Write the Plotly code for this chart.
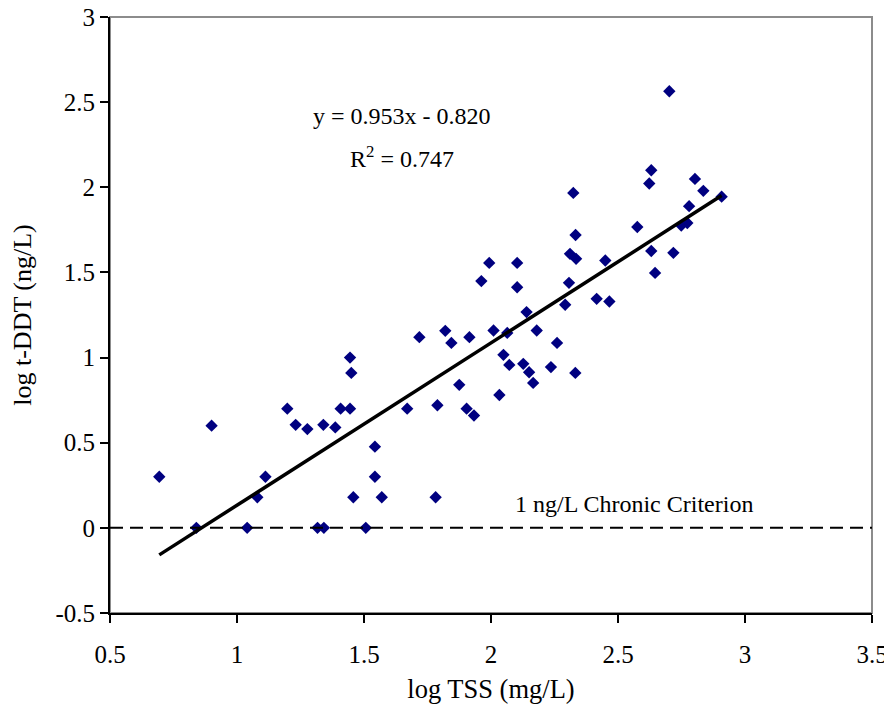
import plotly.graph_objects as go

# Observed data (log TSS mg/L, log t-DDT ng/L)
log_tss = [0.694, 0.84, 0.90, 1.04, 1.08, 1.112, 1.198, 1.231, 1.277, 1.317,
           1.342, 1.34, 1.387, 1.408, 1.445, 1.445, 1.45, 1.458, 1.507, 1.543,
           1.543, 1.57, 1.67, 1.718, 1.782, 1.789, 1.82, 1.844, 1.875, 1.904,
           1.915, 1.933, 1.962, 1.993, 2.01, 2.033, 2.049, 2.064, 2.072, 2.103,
           2.103, 2.127, 2.14, 2.15, 2.166, 2.18, 2.236, 2.26, 2.292, 2.307,
           2.311, 2.324, 2.333, 2.335, 2.332, 2.416, 2.45, 2.466, 2.576, 2.623,
           2.631, 2.631, 2.646, 2.702, 2.718, 2.749, 2.773, 2.78, 2.803, 2.836,
           2.908]
log_ddt = [0.30, 0.0, 0.60, 0.0, 0.18, 0.30, 0.70, 0.605, 0.58, 0.0,
           0.0, 0.605, 0.59, 0.70, 0.70, 1.0, 0.91, 0.18, 0.0, 0.30,
           0.477, 0.18, 0.70, 1.12, 0.18, 0.72, 1.157, 1.086, 0.84, 0.70,
           1.12, 0.66, 1.449, 1.556, 1.159, 0.78, 1.016, 1.145, 0.957, 1.413,
           1.556, 0.963, 1.267, 0.914, 0.851, 1.159, 0.944, 1.086, 1.31, 1.439,
           1.609, 1.967, 1.72, 1.58, 0.91, 1.345, 1.57, 1.329, 1.767, 2.022,
           2.10, 1.626, 1.497, 2.564, 1.615, 1.775, 1.79, 1.889, 2.049, 1.979,
           1.945]

# Regression (as reported on the chart)
slope = 0.953
intercept = -0.820
criterion = 0.0

x_ticks = [0.5, 1, 1.5, 2, 2.5, 3, 3.5]
x_ticktext = ["0.5", "1", "1.5", "2", "2.5", "3", "3.5"]
y_ticks = [-0.5, 0, 0.5, 1, 1.5, 2, 2.5, 3]
y_ticktext = ["-0.5", "0", "0.5", "1", "1.5", "2", "2.5", "3"]

FONT = "Liberation Serif, Times New Roman, serif"

fig = go.Figure()

fig.add_trace(go.Scatter(
    x=log_tss, y=log_ddt, mode="markers",
    marker=dict(symbol="diamond", size=9.5, color="#000080",
                line=dict(width=0)),
    showlegend=False, hoverinfo="x+y"))

xmin, xmax = min(log_tss), max(log_tss)
fig.add_trace(go.Scatter(
    x=[xmin, xmax], y=[slope * xmin + intercept, slope * xmax + intercept],
    mode="lines", line=dict(color="black", width=3.5),
    showlegend=False, hoverinfo="skip"))

# Plot-area border (gray) and criterion line
fig.add_shape(type="rect", xref="paper", yref="paper", x0=0, x1=1, y0=0, y1=1,
              line=dict(color="#8c8c8c", width=2), layer="below")
fig.add_shape(type="line", xref="paper", yref="y", x0=0, x1=1,
              y0=criterion, y1=criterion,
              line=dict(color="black", width=2, dash="13px,7px"))

fig.add_annotation(x=1.65, y=2.42, xref="x", yref="y",
                   text=f"y = {slope:.3f}x - {abs(intercept):.3f}",
                   showarrow=False, font=dict(family=FONT, size=24, color="black"))
fig.add_annotation(x=1.65, y=2.18, xref="x", yref="y",
                   text="R<sup>2</sup> = 0.747",
                   showarrow=False, font=dict(family=FONT, size=24, color="black"))
fig.add_annotation(x=2.563, y=0.141, xref="x", yref="y",
                   text="1 ng/L Chronic Criterion",
                   showarrow=False, font=dict(family=FONT, size=24, color="black"))

axis_common = dict(showgrid=False, zeroline=False, showline=True,
                   linecolor="black", linewidth=2, ticks="outside", ticklen=8,
                   tickcolor="black", tickwidth=1.5, automargin=False,
                   ticklabeloverflow="allow",
                   tickfont=dict(family=FONT, size=25, color="black"))

# The page body has an 8px default margin, so the figure is sized to fit.
fig.update_layout(
    width=884, height=711,
    margin=dict(l=102, r=20, t=9, b=106),
    paper_bgcolor="white", plot_bgcolor="white",
    font=dict(family=FONT, size=24, color="black"),
    xaxis=dict(range=[0.5, 3.5], tickvals=x_ticks, ticktext=x_ticktext,
               ticklabelstandoff=10,
               title=dict(text="log TSS (mg/L)", standoff=12,
                          font=dict(family=FONT, size=26.5, color="black")),
               **axis_common),
    yaxis=dict(range=[-0.5, 3], tickvals=y_ticks, ticktext=y_ticktext,
               title=dict(text="log t-DDT (ng/L)", standoff=22,
                          font=dict(family=FONT, size=26, color="black")),
               **axis_common),
)

fig.write_html("out.html")
